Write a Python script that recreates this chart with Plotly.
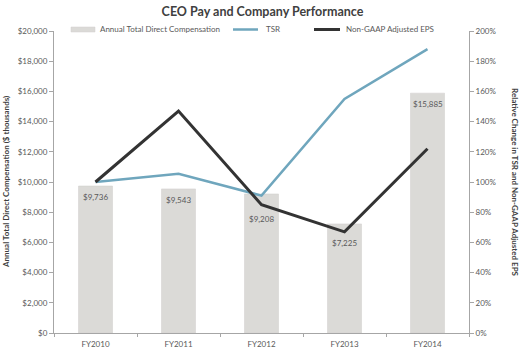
import plotly.graph_objects as go

years = ["FY2010", "FY2011", "FY2012", "FY2013", "FY2014"]
comp = [9736, 9543, 9208, 7225, 15885]
tsr = [100, 105.5, 91, 155, 188]
eps = [100, 147, 85, 67, 122]
comp_labels = ["$" + f"{v:,}" for v in comp]
label_shift = [-11, -11, -25, -19, -11]

FONT = "Lato, 'Open Sans', sans-serif"
GRAY = "#595959"
DARK = "#404040"
AX = "#a6a6a6"
BAR = "#dbdad7"
TSR_C = "#6fa6bd"
EPS_C = "#333333"

W, H = 525, 349
L, R, T, B = 54, 56, 31, 16
PW, PH = W - L - R, H - T - B


def px(x):
    return (x - L) / PW


def py(y):
    return (H - B - y) / PH


fig = go.Figure()
fig.add_trace(go.Bar(
    x=years, y=comp, name="Annual Total Direct Compensation",
    marker=dict(color=BAR, line=dict(color="#d0cfcc", width=0.5)),
    width=0.41, showlegend=False,
))
fig.add_trace(go.Scatter(
    x=years, y=tsr, name="TSR", yaxis="y2", mode="lines",
    line=dict(color=TSR_C, width=2.5), showlegend=False,
))
fig.add_trace(go.Scatter(
    x=years, y=eps, name="Non-GAAP Adjusted EPS", yaxis="y2", mode="lines",
    line=dict(color=EPS_C, width=3), showlegend=False,
))

for yr, v, lab, s in zip(years, comp, comp_labels, label_shift):
    fig.add_annotation(x=yr, y=v, text=lab, showarrow=False, yshift=s,
                       xanchor="center", yanchor="middle",
                       font=dict(size=8, color=GRAY, family=FONT))

fig.update_layout(
    width=W, height=H,
    margin=dict(l=L, r=R, t=T, b=B, autoexpand=False),
    paper_bgcolor="white", plot_bgcolor="white",
    font=dict(family=FONT, size=8, color=GRAY),
    showlegend=False,
    title=dict(text="<b>CEO Pay and Company Performance</b>", x=0.5, xanchor="center",
               xref="container", y=1 - 12 / H, yref="container", yanchor="middle",
               font=dict(size=12.5, color=DARK, family=FONT)),
    xaxis=dict(type="category", showline=True, linecolor=AX, linewidth=1,
               ticks="outside", tickson="boundaries", ticklen=3, tickcolor=AX,
               showgrid=False, tickfont=dict(size=8, color=GRAY), range=[-0.5, 4.5],
               automargin=False, ticklabelstandoff=3),
    yaxis=dict(range=[0, 20000], dtick=2000, tickprefix="$", tickformat=",d",
               showline=True, linecolor=AX, linewidth=1, ticks="outside", ticklen=4,
               tickcolor=AX, showgrid=False, zeroline=False, automargin=False,
               tickfont=dict(size=8, color=GRAY)),
    yaxis2=dict(range=[0, 200], dtick=20, ticksuffix="%", overlaying="y", side="right",
                showline=True, linecolor=AX, linewidth=1, ticks="outside", ticklen=4,
                tickcolor=AX, showgrid=False, zeroline=False, automargin=False,
                tickfont=dict(size=8, color=GRAY)),
)

# manual legend
fig.add_shape(type="rect", xref="paper", yref="paper",
              x0=px(71), x1=px(95), y0=py(32), y1=py(27),
              fillcolor=BAR, line=dict(color="#d0cfcc", width=0.5))
fig.add_annotation(text="Annual Total Direct Compensation", xref="paper", yref="paper",
                   x=px(98), y=py(29.5), xanchor="left", yanchor="middle", showarrow=False,
                   font=dict(size=8, color=GRAY, family=FONT))
fig.add_shape(type="line", xref="paper", yref="paper",
              x0=px(233), x1=px(258), y0=py(29.5), y1=py(29.5),
              line=dict(color=TSR_C, width=2.5))
fig.add_annotation(text="TSR", xref="paper", yref="paper",
                   x=px(264), y=py(29.5), xanchor="left", yanchor="middle", showarrow=False,
                   font=dict(size=8, color=GRAY, family=FONT))
fig.add_shape(type="line", xref="paper", yref="paper",
              x0=px(314), x1=px(340), y0=py(29.5), y1=py(29.5),
              line=dict(color=EPS_C, width=3))
fig.add_annotation(text="Non-GAAP Adjusted EPS", xref="paper", yref="paper",
                   x=px(344), y=py(29.5), xanchor="left", yanchor="middle", showarrow=False,
                   font=dict(size=8, color=GRAY, family=FONT))

fig.add_annotation(text="<b>Annual Total Direct Compensation ($ thousands)</b>",
                   xref="paper", yref="paper", x=px(6), y=0.5, textangle=-90,
                   showarrow=False, font=dict(size=8, color=DARK, family=FONT),
                   xanchor="center", yanchor="middle")
fig.add_annotation(text="<b>Relative Change in TSR and Non-GAAP Adjusted EPS</b>",
                   xref="paper", yref="paper", x=px(515), y=0.5, textangle=90,
                   showarrow=False, font=dict(size=8, color=DARK, family=FONT),
                   xanchor="center", yanchor="middle")

fig.write_html("out.html")
